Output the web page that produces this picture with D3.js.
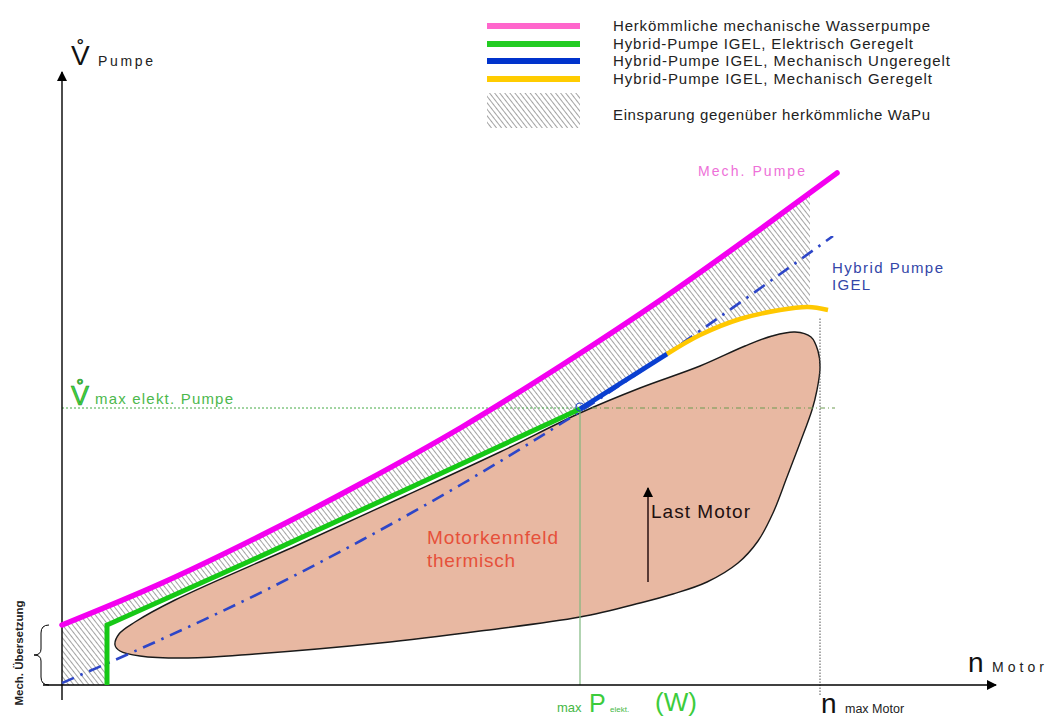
<!DOCTYPE html>
<html>
<head>
<meta charset="utf-8">
<script src="https://cdn.jsdelivr.net/npm/d3@7"></script>
<style>
  html, body { margin: 0; padding: 0; background: #fff; }
  svg { display: block; font-family: "Liberation Sans", Arial, sans-serif; }
</style>
</head>
<body>
<svg id="chart" width="1053" height="720"></svg>
<script>
// ---------- DATA (x = n Motor, y = V Pumpe, schematic units) ----------
const mechPumpe        = [[0,60],[100,102],[200,150],[300,202],[400,258],[500,320],[600,386],[700,457],[775,512]];
const hybridElektrisch = [[45,0],[45,60],[188,124],[343,195],[518,276]];
const hybridUngeregelt = [[518,276],[605,331]];
const hybridGeregelt   = [[605,331],[638,350],[678,366],[718,375],[746,378],[766,375]];
const hybridIgel       = [[0,2],[100,46],[200,93],[300,145],[400,201],[500,262],[600,328],[700,398],[771,449]];
const motorkennfeld    = [[53,40],[57,51],[73,63],[113,85],[238,141],[343,189],[438,233],[518,272],
                          [578,297],[638,319],[683,339],[710,349],[733,353],[749,348],[756,334],[758,317],
                          [755,295],[750,275],[738,242],[725,208],[711,172],[696,144],[676,122],[645,103],
                          [611,91],[578,82],[518,68],[418,54],[318,42],[193,31],[126,27],[78,29],[58,34]];
const vMaxElekt   = 277;   // V max elekt. Pumpe
const nMaxPElekt  = 518;   // n at max P elekt.
const nMaxMotor   = 758;   // n max Motor
const hatchEnd    = 748;   // right end of savings area
const lastMotorArrow = [[586,103],[586,197]];

const legendLabels = [
  "Herkömmliche mechanische Wasserpumpe",
  "Hybrid-Pumpe IGEL, Elektrisch Geregelt",
  "Hybrid-Pumpe IGEL, Mechanisch Ungeregelt",
  "Hybrid-Pumpe IGEL, Mechanisch Geregelt"
];
const legendColors = ["#ff66cc", "#22cc22", "#0033cc", "#ffcc00"];
const hatchLabel = "Einsparung gegenüber herkömmliche WaPu";

// ---------- SCALES ----------
const x = d3.scaleLinear().domain([0, 936]).range([62, 998]);
const y = d3.scaleLinear().domain([0, 615]).range([685, 70]);

const svg = d3.select("#chart");
const defs = svg.append("defs");

// hatch pattern
const pat = defs.append("pattern").attr("id", "hatch").attr("patternUnits", "userSpaceOnUse")
  .attr("width", 4).attr("height", 4).attr("patternTransform", "rotate(-38)");
pat.append("line").attr("x1", 0.5).attr("y1", -2).attr("x2", 0.5).attr("y2", 6)
  .attr("stroke", "#8c8c8c").attr("stroke-width", 0.8);

defs.append("clipPath").attr("id", "hatchClip").append("rect")
  .attr("x", x(0)).attr("y", 0).attr("width", x(hatchEnd) - x(0)).attr("height", 720);

defs.append("marker").attr("id", "arrow").attr("viewBox", "0 0 10 10")
  .attr("refX", 9).attr("refY", 5).attr("markerWidth", 10).attr("markerHeight", 10)
  .attr("markerUnits", "userSpaceOnUse").attr("orient", "auto")
  .append("path").attr("d", "M0,0 L10,5 L0,10 Z").attr("fill", "#000");

const lineLin = d3.line().x(d => x(d[0])).y(d => y(d[1]));
const lineCurve = d3.line().x(d => x(d[0])).y(d => y(d[1])).curve(d3.curveMonotoneX);
const lineCurveRev = d3.line().x(d => x(d[0])).y(d => y(d[1])).curve(d3.curveCatmullRom.alpha(0.5));

// ---------- SAVINGS AREA (hatched) ----------
const lowerLinear = hybridUngeregelt.slice().reverse().concat(hybridElektrisch.slice().reverse(), [[0,0]]);
const hatchD = lineCurve(mechPumpe)
  + lineCurveRev(hybridGeregelt.slice().reverse()).replace(/^M/, "L")
  + lineLin(lowerLinear).replace(/^M/, "L") + "Z";
svg.append("path").attr("d", hatchD).attr("fill", "url(#hatch)").attr("clip-path", "url(#hatchClip)");

// ---------- MOTOR MAP ----------
svg.append("path")
  .attr("d", d3.line().x(d => x(d[0])).y(d => y(d[1])).curve(d3.curveCatmullRomClosed.alpha(0.5))(motorkennfeld))
  .attr("fill", "#e8b8a2").attr("stroke", "#1a1a1a").attr("stroke-width", 1.4);

// ---------- REFERENCE LINES ----------
svg.append("line").attr("x1", x(0)).attr("x2", x(nMaxPElekt)).attr("y1", y(vMaxElekt)).attr("y2", y(vMaxElekt))
  .attr("stroke", "#44aa44").attr("stroke-width", 1).attr("stroke-dasharray", "2,2");
svg.append("line").attr("x1", x(nMaxPElekt)).attr("x2", x(773)).attr("y1", y(vMaxElekt)).attr("y2", y(vMaxElekt))
  .attr("stroke", "#6c9a50").attr("stroke-width", 1).attr("stroke-dasharray", "5,3,1,3");
svg.append("line").attr("x1", x(nMaxPElekt)).attr("x2", x(nMaxPElekt)).attr("y1", y(0)).attr("y2", y(vMaxElekt))
  .attr("stroke", "#7fb87f").attr("stroke-width", 1.2);
svg.append("line").attr("x1", x(nMaxMotor)).attr("x2", x(nMaxMotor)).attr("y1", y(-10)).attr("y2", y(367))
  .attr("stroke", "#555").attr("stroke-width", 1).attr("stroke-dasharray", "1.5,1.5");

// ---------- AXES ----------
svg.append("line").attr("x1", 43).attr("x2", x(936) - 2).attr("y1", y(0)).attr("y2", y(0))
  .attr("stroke", "#000").attr("stroke-width", 1.4).attr("marker-end", "url(#arrow)");
svg.append("line").attr("x1", x(0)).attr("x2", x(0)).attr("y1", 700).attr("y2", y(615) + 2)
  .attr("stroke", "#000").attr("stroke-width", 1.4).attr("marker-end", "url(#arrow)");

// ---------- CURVES ----------
svg.append("path").attr("d", lineCurve(hybridIgel)).attr("fill", "none")
  .attr("stroke", "#2d46c8").attr("stroke-width", 2.6).attr("stroke-dasharray", "13,7,2.5,7");
svg.append("path").attr("d", lineCurve(mechPumpe)).attr("fill", "none")
  .attr("stroke", "#f400f0").attr("stroke-width", 5.5).attr("stroke-linecap", "round");
svg.append("path").attr("d", lineLin(hybridElektrisch)).attr("fill", "none")
  .attr("stroke", "#16c816").attr("stroke-width", 5).attr("stroke-linejoin", "miter");
svg.append("path").attr("d", lineLin(hybridUngeregelt)).attr("fill", "none")
  .attr("stroke", "#0a3fd0").attr("stroke-width", 5);
svg.append("path").attr("d", lineCurveRev(hybridGeregelt)).attr("fill", "none")
  .attr("stroke", "#ffc800").attr("stroke-width", 4.5);
svg.append("circle").attr("cx", x(nMaxPElekt)).attr("cy", y(vMaxElekt) - 1).attr("r", 4)
  .attr("fill", "none").attr("stroke", "#1a44c0").attr("stroke-width", 1.2);

// Last Motor arrow
svg.append("line").attr("x1", x(lastMotorArrow[0][0])).attr("x2", x(lastMotorArrow[1][0]))
  .attr("y1", y(lastMotorArrow[0][1])).attr("y2", y(lastMotorArrow[1][1]))
  .attr("stroke", "#2a1010").attr("stroke-width", 1.5).attr("marker-end", "url(#arrow)");

// brace
const bt = y(60), bb = y(0), bm = (bt + bb) / 2;
svg.append("path")
  .attr("d", `M49,${bt} Q41,${bt} 41,${bt+8} L41,${bm-6} Q41,${bm} 34,${bm} Q41,${bm} 41,${bm+6} L41,${bb-8} Q41,${bb} 49,${bb}`)
  .attr("fill", "none").attr("stroke", "#000").attr("stroke-width", 1);

// ---------- TEXT ----------
function txt(s, px, py, size, color, len, extra) {
  const t = svg.append("text").attr("x", px).attr("y", py).attr("font-size", size).attr("fill", color).text(s);
  if (len) t.attr("textLength", len).attr("lengthAdjust", "spacing");
  if (extra) extra(t);
  return t;
}

// legend
legendLabels.forEach((lab, i) => {
  const cy = [26, 44, 61, 79][i];
  svg.append("line").attr("x1", 487).attr("x2", 580).attr("y1", cy).attr("y2", cy)
    .attr("stroke", legendColors[i]).attr("stroke-width", 6);
  txt(lab, 613, cy + 5, 15, "#222", [317, 300, 337, 319][i]);
});
svg.append("rect").attr("x", 487).attr("y", 93).attr("width", 93).attr("height", 35).attr("fill", "url(#hatch)");
txt(hatchLabel, 613, 120, 15, "#222", 317);

// axis labels
txt("V\u030A", 71, 65, 28, "#111");
txt("Pumpe", 98, 66, 14, "#222", 55);
txt("n", 968, 672, 28, "#111");
txt("Motor", 992, 672, 14, "#222", 52);
txt("n", 821, 713, 28, "#111");
txt("max Motor", 845, 713, 12.5, "#222");

// green labels
txt("V\u030A", 71, 405, 27, "#3ed63e", null, t => t.attr("stroke", "#1f8a1f").attr("stroke-width", 0.6));
txt("max elekt. Pumpe", 95, 404, 15, "#4cb84c", 138);
txt("max", 557, 712, 13, "#45b845");
txt("P", 589, 712, 25, "#3ccc3c");
txt("elekt.", 610, 712, 8, "#45b845");
txt("(W)", 655, 711, 26, "#3ccc3c");

// curve labels
txt("Mech. Pumpe", 698, 176, 14, "#ee70d8", 107);
txt("Hybrid Pumpe", 832, 273, 15, "#3346a8", 111);
txt("IGEL", 832, 290, 15, "#3346a8", 38);
txt("Motorkennfeld", 427, 544, 19, "#e6503a", 131);
txt("thermisch", 427, 567, 19, "#e6503a", 88);
txt("Last Motor", 651, 518, 19, "#1e1010", 99);

// vertical label
svg.append("text").attr("transform", "translate(23,653) rotate(-90)")
  .attr("text-anchor", "middle").attr("font-size", 10).attr("font-weight", "bold")
  .attr("font-family", "'Liberation Sans Narrow', 'Liberation Sans', sans-serif")
  .attr("fill", "#222").attr("textLength", 105).attr("lengthAdjust", "spacingAndGlyphs")
  .text("Mech. Übersetzung");
</script>
</body>
</html>
